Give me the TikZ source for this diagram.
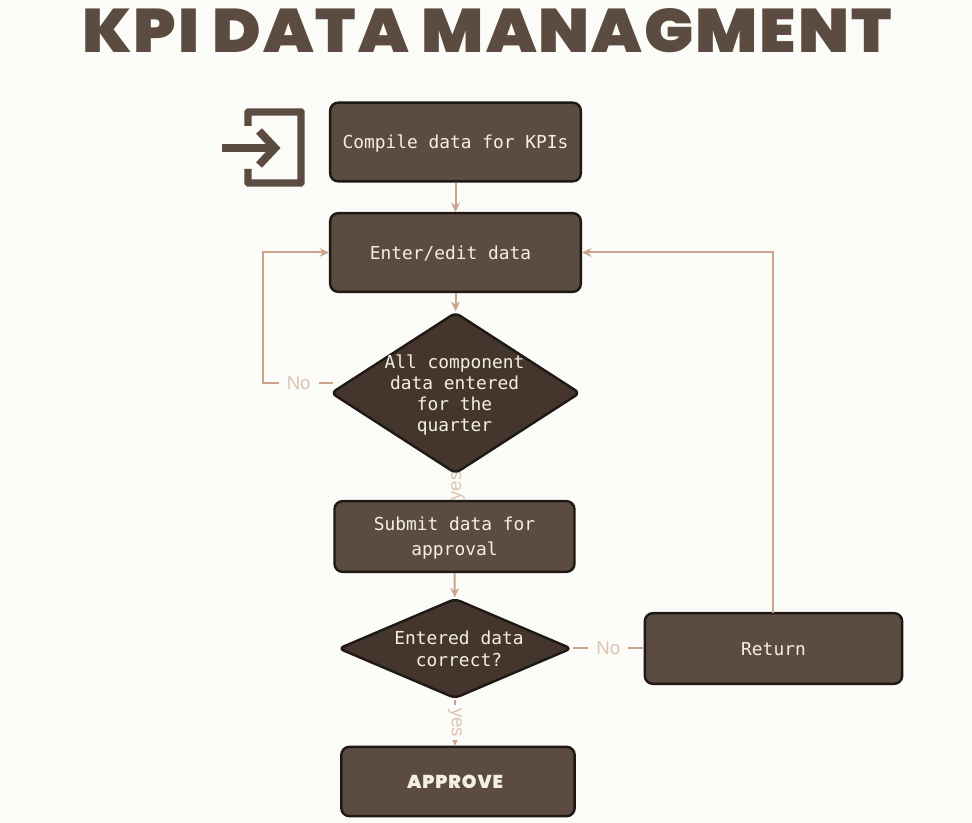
\documentclass[tikz,border=0pt]{standalone}
\usepackage{fontspec}
\usetikzlibrary{shapes.geometric,arrows.meta}
\setmonofont{DejaVu Sans Mono}
\setsansfont{Liberation Sans}
\newfontfamily\titlefont{Poppins Black}[LetterSpace=3]
\newfontfamily\approvefont{Poppins Black}[LetterSpace=5]
\definecolor{pagebg}{HTML}{FBFBF7}
\definecolor{boxfill}{HTML}{5C4B40}
\definecolor{diafill}{HTML}{44362C}
\definecolor{edgec}{HTML}{1E1915}
\definecolor{linec}{HTML}{C9A38C}
\definecolor{labelc}{HTML}{DDC3B2}
\definecolor{textc}{HTML}{F4EFE4}
\pgfdeclarelayer{under}
\pgfsetlayers{under,main}
% #1 horizontal offset, #2 vertical offset, #3 lines of text
\newcommand{\boxtext}[3]{\hspace*{#1}\smash{\raisebox{#2}{\makebox[0pt]{\begin{tabular}[c]{@{}c@{}}#3\end{tabular}}}}\hspace*{-#1}}
\tikzset{
  pic px/.style={x=0.75pt,y=-0.75pt},
  flowbox/.style={draw=edgec,line width=1.8pt,fill=boxfill,rounded corners=6pt,inner sep=0pt,
    text=textc,font=\ttfamily\fontsize{13.4}{18.75}\selectfont},
  flowdia/.style={diamond,draw=edgec,line width=1.8pt,fill=diafill,rounded corners=4pt,inner sep=0pt,
    text=textc,font=\ttfamily\fontsize{13.4}{15.9}\selectfont,aspect=1.5},
  conn/.style={draw=linec,line width=1.5pt,-{Stealth[length=7pt,width=6.5pt]}},
  plainconn/.style={draw=linec,line width=1.5pt},
  tag/.style={text=labelc,font=\sffamily\fontsize{14}{16}\selectfont,inner sep=0pt},
  tagbg/.style={tag,fill=pagebg,inner xsep=6pt,inner ysep=3pt},
}
\begin{document}
\begin{tikzpicture}[pic px]
\useasboundingbox (0,0) rectangle (972,823);
\begin{pgfonlayer}{under}
\fill[pagebg] (0,0) rectangle (972,823);
\end{pgfonlayer}
\node[anchor=base,inner sep=0pt,text=boxfill] (title) at (487,53)
  {\resizebox{607pt}{33pt}{\titlefont KPI DATA MANAGMENT}};
% login icon
\draw[boxfill,line width=5.6pt,rounded corners=0.4pt] (248,126) -- (248,112) -- (301,112) -- (301,183) -- (248,183) -- (248,169);
\draw[boxfill,line width=6pt] (222,148) -- (272,148);
\draw[boxfill,line width=6pt,line join=miter] (259,131) -- (275,148) -- (259,165);
% nodes
\node[flowbox,minimum width=188pt,minimum height=59pt] (compile) at (455.5,142) {\boxtext{0pt}{-4.7pt}{Compile data for KPIs}};
\node[flowbox,minimum width=188pt,minimum height=59pt] (enter) at (455.5,252.5) {\boxtext{-3.7pt}{-5.1pt}{Enter/edit data}};
\node[flowdia,minimum width=187pt,minimum height=121pt] (dia1) at (455.5,393) {\boxtext{-0.7pt}{-5.55pt}{All component\\data entered\\for the\\quarter}};
\node[flowbox,minimum width=180pt,minimum height=53pt] (submit) at (454.5,536.5) {\boxtext{0pt}{-4.7pt}{Submit data for\\approval}};
\node[flowdia,minimum width=175pt,minimum height=75pt,font=\ttfamily\fontsize{13.4}{16.5}\selectfont] (dia2) at (455,648.5) {\boxtext{3pt}{-5.2pt}{Entered data\\correct?}};
\node[flowbox,minimum width=193pt,minimum height=53pt] (ret) at (773.5,648.5) {\boxtext{0pt}{-5.1pt}{Return}};
\node[flowbox,minimum width=175pt,minimum height=52pt,font=\approvefont\fontsize{14}{16}\selectfont] (approve) at (458,781.5) {\boxtext{-2.2pt}{-5.8pt}{APPROVE}};
% connectors
\coordinate (nostub) at (333,383);
\coordinate (nocorner) at (263,383);
\coordinate (retup) at (773,613);
\draw[conn] (compile) -- (enter);
\draw[conn] (enter) -- (dia1);
\draw[conn] (submit) -- (dia2);
\begin{pgfonlayer}{under}
\draw[conn] (dia1.south -| submit) -- (submit);
\node[tag,fill=pagebg,inner ysep=2pt,rotate=90] (yesa) at (458,486) {yes};
\end{pgfonlayer}
\draw[conn] (dia2.south) -- node[tagbg,inner xsep=2pt,rotate=-90,pos=0.5] (yesb) {yes} (approve.north -| dia2);
\draw[conn] (nostub) -- node[tagbg,pos=0.49] (noa) {No} (nocorner) |- (enter.west);
\draw[plainconn] (dia2.east) -- node[tagbg,midway] (nob) {No} (dia2.east -| ret.west);
\draw[conn] (retup) |- (enter.east);
\end{tikzpicture}
\end{document}
